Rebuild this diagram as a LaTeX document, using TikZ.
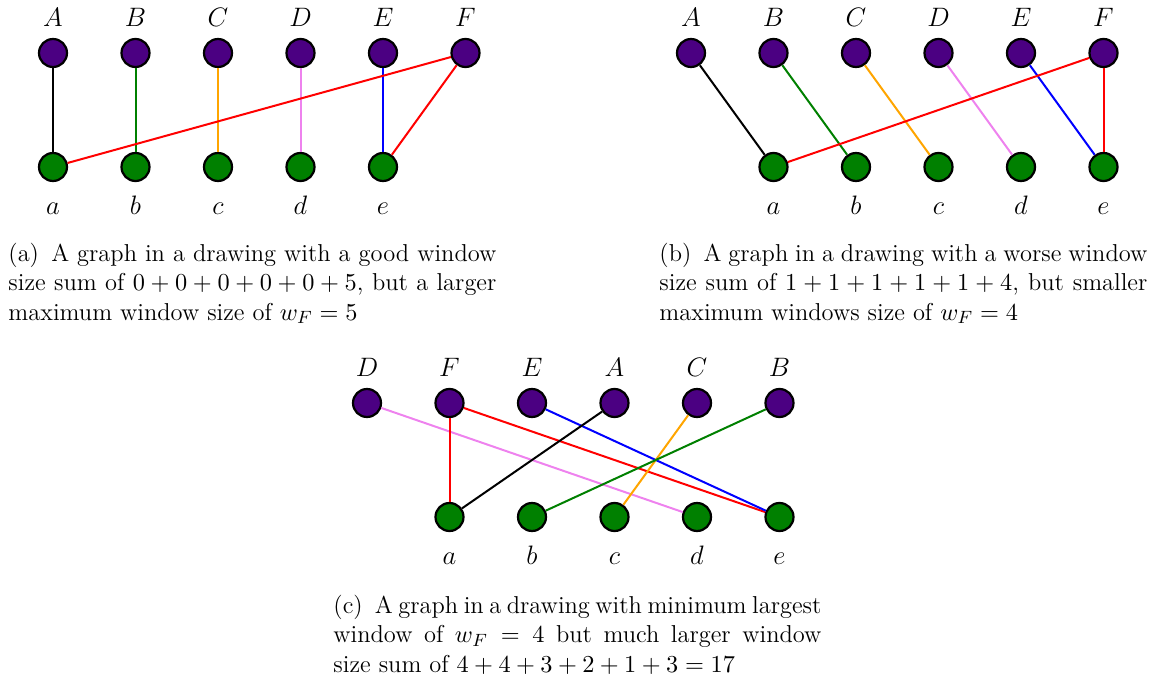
\documentclass[tikz,border=0pt]{standalone}
\usepackage{amsmath}
\definecolor{vtop}{HTML}{4B0082}
\definecolor{vbot}{HTML}{008000}
\definecolor{egreen}{HTML}{008000}
\definecolor{eorange}{HTML}{FFA500}
\definecolor{eviolet}{HTML}{EE82EE}
\newcommand{\captfont}{\fontsize{11}{13.1}\selectfont}
\begin{document}
\begin{tikzpicture}[x=0.45pt, y=-0.45pt,
    vert/.style={circle, draw, line width=1pt, inner sep=0pt, minimum size=12.6pt},
    uvert/.style={vert, fill=vtop},
    lvert/.style={vert, fill=vbot},
    ulab/.style={font=\large, inner sep=0pt, text depth=0pt, yshift=4.95pt},
    llab/.style={font=\large, inner sep=0pt, text height=8pt, text depth=0pt, yshift=-6.4pt},
    edge/.style={line width=0.9pt},
    capt/.style={anchor=north west, inner sep=0pt, text width=219.6pt, align=justify,
        font=\captfont}]
    \useasboundingbox (0,0) rectangle (1153,676);

    % (a) good window size sum
    \node[uvert, label={[ulab]above:$A$}] (A1) at (53,53) {};
    \node[uvert, label={[ulab]above:$B$}] (B1) at (135.5,53) {};
    \node[uvert, label={[ulab]above:$C$}] (C1) at (218,53) {};
    \node[uvert, label={[ulab]above:$D$}] (D1) at (300.5,53) {};
    \node[uvert, label={[ulab]above:$E$}] (E1) at (383,53) {};
    \node[uvert, label={[ulab]above:$F$}] (F1) at (465.5,53) {};
    \node[lvert, label={[llab]below:$a$}] (a1) at (53,167) {};
    \node[lvert, label={[llab]below:$b$}] (b1) at (135.5,167) {};
    \node[lvert, label={[llab]below:$c$}] (c1) at (218,167) {};
    \node[lvert, label={[llab]below:$d$}] (d1) at (300.5,167) {};
    \node[lvert, label={[llab]below:$e$}] (e1) at (383,167) {};

    \draw[edge, black] (A1) -- (a1);
    \draw[edge, egreen] (B1) -- (b1);
    \draw[edge, eorange] (C1) -- (c1);
    \draw[edge, eviolet] (D1) -- (d1);
    \draw[edge, blue] (E1) -- (e1);
    \draw[edge, red] (F1) -- (a1);
    \draw[edge, red] (F1) -- (e1);

    \node[capt] (capa) at (8,243) {(a)\enspace A graph in a drawing with a good window\linebreak
        size sum of $0+0+0+0+0+5$, but a larger\linebreak
        maximum window size of $w_F=5$};

    % (b) worse sum, smaller maximum
    \node[uvert, label={[ulab]above:$A$}] (A2) at (691,53) {};
    \node[uvert, label={[ulab]above:$B$}] (B2) at (773.5,53) {};
    \node[uvert, label={[ulab]above:$C$}] (C2) at (856,53) {};
    \node[uvert, label={[ulab]above:$D$}] (D2) at (938.5,53) {};
    \node[uvert, label={[ulab]above:$E$}] (E2) at (1021,53) {};
    \node[uvert, label={[ulab]above:$F$}] (F2) at (1103.5,53) {};
    \node[lvert, label={[llab]below:$a$}] (a2) at (773.5,167) {};
    \node[lvert, label={[llab]below:$b$}] (b2) at (856,167) {};
    \node[lvert, label={[llab]below:$c$}] (c2) at (938.5,167) {};
    \node[lvert, label={[llab]below:$d$}] (d2) at (1021,167) {};
    \node[lvert, label={[llab]below:$e$}] (e2) at (1103.5,167) {};

    \draw[edge, black] (A2) -- (a2);
    \draw[edge, egreen] (B2) -- (b2);
    \draw[edge, eorange] (C2) -- (c2);
    \draw[edge, eviolet] (D2) -- (d2);
    \draw[edge, blue] (E2) -- (e2);
    \draw[edge, red] (F2) -- (a2);
    \draw[edge, red] (F2) -- (e2);

    \node[capt] (capb) at (659,243) {(b)\enspace A graph in a drawing with a worse window\linebreak
        size sum of $1+1+1+1+1+4$, but smaller\linebreak
        maximum windows size of $w_F=4$};

    % (c) minimum largest window
    \node[uvert, label={[ulab]above:$D$}] (D3) at (367,403) {};
    \node[uvert, label={[ulab]above:$F$}] (F3) at (449.5,403) {};
    \node[uvert, label={[ulab]above:$E$}] (E3) at (532,403) {};
    \node[uvert, label={[ulab]above:$A$}] (A3) at (614.5,403) {};
    \node[uvert, label={[ulab]above:$C$}] (C3) at (697,403) {};
    \node[uvert, label={[ulab]above:$B$}] (B3) at (779.5,403) {};
    \node[lvert, label={[llab]below:$a$}] (a3) at (449.5,517) {};
    \node[lvert, label={[llab]below:$b$}] (b3) at (532,517) {};
    \node[lvert, label={[llab]below:$c$}] (c3) at (614.5,517) {};
    \node[lvert, label={[llab]below:$d$}] (d3) at (697,517) {};
    \node[lvert, label={[llab]below:$e$}] (e3) at (779.5,517) {};

    \draw[edge, eviolet] (D3) -- (d3);
    \draw[edge, red] (F3) -- (a3);
    \draw[edge, red] (F3) -- (e3);
    \draw[edge, blue] (E3) -- (e3);
    \draw[edge, black] (A3) -- (a3);
    \draw[edge, eorange] (C3) -- (c3);
    \draw[edge, egreen] (B3) -- (b3);

    \node[capt] (capc) at (333,595) {(c)\enspace A graph in a drawing with minimum largest\linebreak
        window of $w_F=4$ but much larger window\linebreak
        size sum of $4+4+3+2+1+3=17$};
\end{tikzpicture}
\end{document}
